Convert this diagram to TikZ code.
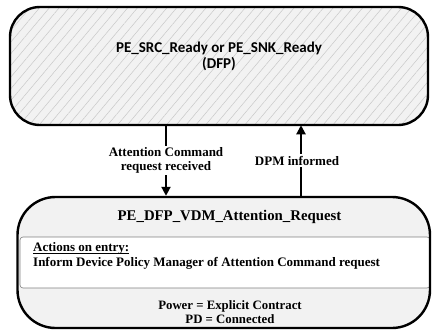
\documentclass[tikz,border=0pt]{standalone}
\usepackage{fontspec}
\setmainfont{Liberation Serif}
\newfontfamily\calibri{Carlito}
\usepackage{xcolor}
\usetikzlibrary{arrows.meta, patterns.meta, positioning}
\definecolor{stategray}{HTML}{F2F2F2}
\definecolor{hatchgray}{HTML}{C8C8C8}
\definecolor{bandline}{HTML}{808080}

\begin{document}
\begin{tikzpicture}[x=1pt, y=-1pt,
        trans/.style={line width=2pt, -{Triangle[width=9pt, length=9pt]}},
        translabel/.style={fill=white, inner sep=1.5pt, align=center, font=\bfseries\fontsize{13}{14}\selectfont},
        entryline/.style={anchor=base west, inner sep=0pt, font=\bfseries\fontsize{13}{15}\selectfont}]
        \useasboundingbox (0,0) rectangle (432,335);
        % ready state (hatched)
        \node[draw, line width=2.4pt, rounded corners=30pt, minimum width=418pt, minimum height=118pt, preaction={fill=stategray}, pattern={Lines[angle=50, distance=7.5pt, line width=0.5pt]}, pattern color=hatchgray] (ready) at (219,66) {};
        \node[align=center, font=\calibri\bfseries\fontsize{15}{16}\selectfont] (readytxt) at (219,56) {PE\_SRC\_Ready or PE\_SNK\_Ready\\(DFP)};
        % attention request state
        \node[fill=stategray, rounded corners=38pt, minimum width=412.5pt, minimum height=131pt] (attn) at (223.75,262.5) {};
        \node[draw=bandline, fill=white, line width=0.6pt, rounded corners=3pt, minimum width=410pt, minimum height=51pt] (entry) at (225,262.5) {};
        \node[draw, line width=2.4pt, rounded corners=38pt, minimum width=412.5pt, minimum height=131pt] (attnborder) at (attn) {};
        \node[anchor=base, font=\bfseries\fontsize{14.8}{17}\selectfont] (attntitle) at (229.5,220) {PE\_DFP\_VDM\_Attention\_Request};
        \node[entryline] (actions) at (33,251.5) {Actions on entry:};
        \draw[line width=0.7pt] ([yshift=-2pt]actions.base west) -- ([yshift=-2pt]actions.base east);
        \node[entryline] (inform) at (33,266.5) {Inform Device Policy Manager of Attention Command request};
        \node[align=center, font=\bfseries\fontsize{12.8}{14}\selectfont] (attnstatus) at (230,312.6) {Power = Explicit Contract\\PD = Connected};
        % transitions
        \coordinate (recv) at (166,161);
        \coordinate (dpm) at (301,161);
        \draw[trans] (ready.south -| recv) -- node[translabel] (recvtxt) {Attention Command\\request received} (attnborder.north -| recv);
        \draw[trans] (attnborder.north -| dpm) -- node[translabel, xshift=-4pt] (dpmtxt) {DPM informed} (ready.south -| dpm);
    \end{tikzpicture}
\end{document}
